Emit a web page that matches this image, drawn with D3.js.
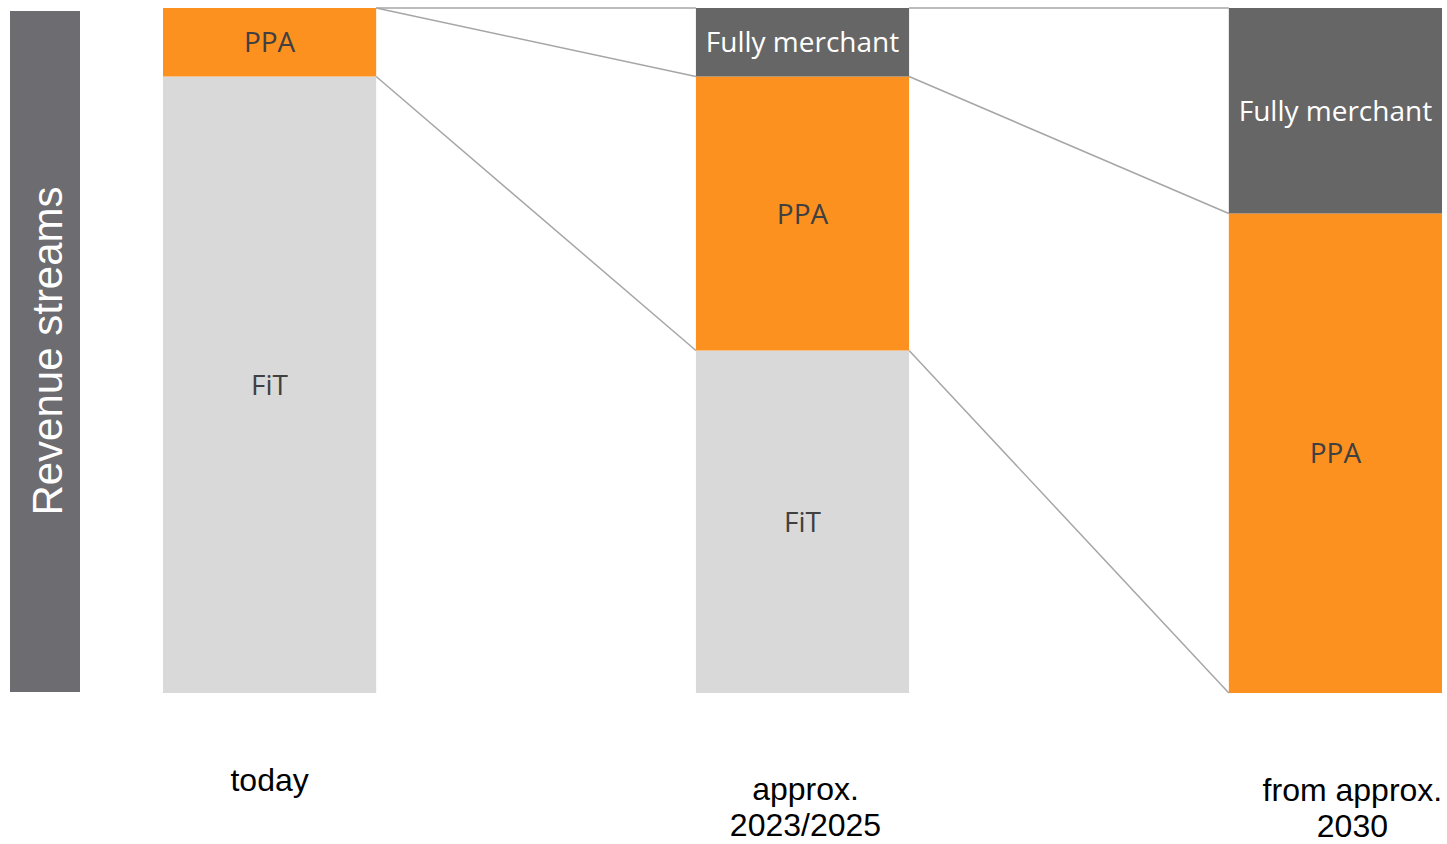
<!DOCTYPE html>
<html>
<head>
<meta charset="utf-8">
<script src="https://cdn.jsdelivr.net/npm/d3@7"></script>
<style>
	body { margin: 0; background: #fff; }
	.seg-label { font-family: "Open Sans", sans-serif; font-size: 28px; text-anchor: middle; }
	.cat-label { font-family: "Liberation Sans", Arial, sans-serif; font-size: 32px; fill: #000; text-anchor: middle; }
	.link { fill: none; stroke: #a6a6a6; stroke-width: 1.5; }
</style>
</head>
<body>
<div id="chart"></div>
<script>

// the three stages and their revenue mix (share in %)
var stages = ['today', 'approx. 2023/2025', 'from approx. 2030'];
var stageLines = [['today'], ['approx.', '2023/2025'], ['from approx.', '2030']];
var fit = [90, 50, 0];
var ppa = [10, 40, 70];
var merchant = [0, 10, 30];

var keys = ['FiT', 'PPA', 'Fully merchant'];
var colors = { 'FiT': '#d9d9d9', 'PPA': '#fd9120', 'Fully merchant': '#666666' };
var textColors = { 'FiT': '#404040', 'PPA': '#404040', 'Fully merchant': '#ffffff' };

var rows = stages.map(function(s, i) {
	return { stage: s, 'FiT': fit[i], 'PPA': ppa[i], 'Fully merchant': merchant[i] };
});

var width = 1447, height = 844;

var svg = d3.select("#chart").append("svg")
	.attr("width", width)
	.attr("height", height);

// grey side box with the axis title
svg.append("rect")
	.attr("x", 10).attr("y", 11)
	.attr("width", 70).attr("height", 681)
	.attr("fill", "#6d6c70");
svg.append("text")
	.attr("transform", "translate(62,351) rotate(-90)")
	.attr("text-anchor", "middle")
	.style("font-family", "Liberation Sans, Arial, sans-serif")
	.style("font-size", "42px")
	.attr("fill", "#fff")
	.text("Revenue streams");

var x = d3.scaleBand()
	.domain(stages)
	.range([163, 1442])
	.paddingInner(0.6)
	.paddingOuter(0);

var y = d3.scaleLinear()
	.domain([0, 100])
	.range([693, 8]);

var series = d3.stack().keys(keys)(rows);

// connector lines between the tops of the same segment in neighbour bars
for (var i = 0; i < stages.length - 1; i++) {
	series.forEach(function(s) {
		svg.append("line")
			.attr("class", "link")
			.attr("x1", x(stages[i]) + x.bandwidth())
			.attr("y1", y(s[i][1]))
			.attr("x2", x(stages[i + 1]))
			.attr("y2", y(s[i + 1][1]));
	});
}

var groups = svg.selectAll("g.layer")
	.data(series)
	.enter().append("g")
	.attr("class", "layer");

groups.selectAll("rect")
	.data(function(s) { return s.map(function(d) { d.key = s.key; return d; }); })
	.enter().append("rect")
	.attr("x", function(d) { return x(d.data.stage); })
	.attr("y", function(d) { return y(d[1]); })
	.attr("width", x.bandwidth())
	.attr("height", function(d) { return y(d[0]) - y(d[1]); })
	.attr("fill", function(d) { return colors[d.key]; });

groups.selectAll("text")
	.data(function(s) { return s.filter(function(d) { return d[1] - d[0] > 0; }); })
	.enter().append("text")
	.attr("class", "seg-label")
	.attr("x", function(d) { return x(d.data.stage) + x.bandwidth() / 2; })
	.attr("y", function(d) { return (y(d[0]) + y(d[1])) / 2; })
	.attr("dy", "0.36em")
	.attr("fill", function(d) { return textColors[d.key]; })
	.text(function(d) { return d.key; });

// stage labels below the bars
var labelShift = [0, 3, 17];
var labelTop = [791, 800, 801];
stages.forEach(function(s, i) {
	var t = svg.append("text")
		.attr("class", "cat-label")
		.attr("x", x(s) + x.bandwidth() / 2 + labelShift[i])
		.attr("y", labelTop[i]);
	stageLines[i].forEach(function(line, j) {
		t.append("tspan")
			.attr("x", x(s) + x.bandwidth() / 2 + labelShift[i])
			.attr("dy", j == 0 ? 0 : 36)
			.text(line);
	});
});

</script>
</body>
</html>
